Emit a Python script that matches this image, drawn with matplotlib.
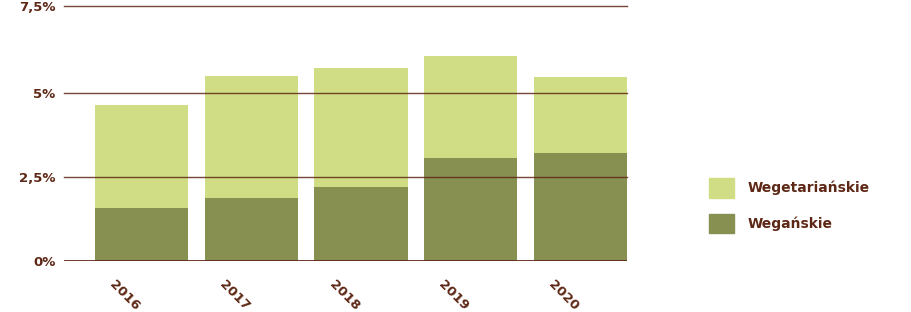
import matplotlib.pyplot as plt
from matplotlib.patches import Patch
from matplotlib.transforms import ScaledTranslation

years = ['2016', '2017', '2018', '2019', '2020']
weganskie = [1.58, 1.86, 2.19, 3.07, 3.21]
razem = [4.64, 5.51, 5.74, 6.10, 5.48]
wegetarianskie = [r - w for r, w in zip(razem, weganskie)]
tick_labels = ['0%', '2,5%', '5%', '7,5%']

brown = '#5e2816'
light = '#d0dd84'
dark = '#878f51'

plt.rcParams['font.family'] = ['DejaVu Sans']

fig = plt.figure(figsize=(9.11, 3.12), dpi=100)
ax = fig.add_axes([0.0703, 0.165, 0.618, 0.8167])

x = range(len(years))
ax.bar(x, weganskie, width=0.85, color=dark, zorder=1)
ax.bar(x, wegetarianskie, bottom=weganskie, width=0.85, color=light, zorder=1)

# the top line of the reference sits slightly above 7.5 (frame edge)
ytop = 7.61
ticks = [0, 2.5, 5, ytop]
ax.set_ylim(0, ytop)
ax.set_xlim(-0.707, 4.425)
ax.set_yticks(ticks)
ax.set_yticklabels(tick_labels, fontsize=9.5, fontweight='bold', color=brown)
for t in ticks[1:]:
    ax.axhline(t, color=brown, lw=1, alpha=0.85, zorder=3, clip_on=False)
ax.axhline(0, color=brown, lw=2, zorder=3)

ax.set_xticks(list(x))
ax.set_xticklabels(years, rotation=-45, ha='center', va='center', rotation_mode='anchor',
                   fontsize=9.5, fontweight='bold', color=brown)
ax.tick_params(axis='both', length=0)
ax.tick_params(axis='x', pad=25)
ax.tick_params(axis='y', pad=6)
shift = ScaledTranslation(-0.17, 0, fig.dpi_scale_trans)
for lab in ax.get_xticklabels():
    lab.set_transform(lab.get_transform() + shift)
for s in ax.spines.values():
    s.set_visible(False)

handles = [Patch(color=light, label='Wegetariańskie'),
           Patch(color=dark, label='Wegańskie')]
leg = fig.legend(handles=handles, loc='center left', bbox_to_anchor=(0.765, 0.34),
                 frameon=False, handlelength=1.75, handleheight=1.75,
                 labelspacing=1.2, handletextpad=1.0,
                 prop={'size': 10, 'weight': 'bold'})
for t in leg.get_texts():
    t.set_color(brown)

fig.savefig('out.png', dpi=100)
